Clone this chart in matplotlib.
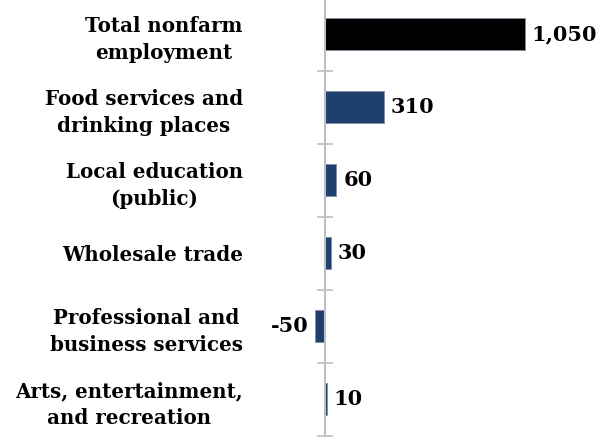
import matplotlib
matplotlib.use('Agg')
import matplotlib.pyplot as plt
import numpy as np

# data
categories = ['Total nonfarm\nemployment',
              'Food services and\ndrinking places',
              'Local education\n(public)',
              'Wholesale trade',
              'Professional and\nbusiness services',
              'Arts, entertainment,\nand recreation']
values = [1050, 310, 60, 30, -50, 10]
value_labels = ['1,050', '310', '60', '30', '-50', '10']
bar_colors = ['#000000', '#1f3f6e', '#1f3f6e', '#1f3f6e', '#1f3f6e', '#1f3f6e']

plt.rcParams['font.family'] = ['DejaVu Serif']
plt.rcParams['font.weight'] = 'bold'

fig = plt.figure(figsize=(6.14, 4.38), dpi=100)
ax = fig.add_axes([0.498, 0.005, 0.434, 1.0])

pos = np.arange(len(categories))
ax.barh(pos, values, height=0.44, color=bar_colors, edgecolor='#7f8ea3', linewidth=0.6)
ax.set_ylim(len(categories) - 0.5, -0.5)
ax.set_xlim(-100, 1300)

for spine in ['top', 'right', 'bottom']:
    ax.spines[spine].set_visible(False)
ax.spines['left'].set_position(('data', 0))
ax.spines['left'].set_color('#bfbfbf')
ax.spines['left'].set_linewidth(1.5)
ax.set_xticks([])

# category labels on the major ticks, tick marks at the category borders
ax.set_yticks(pos)
ax.set_yticklabels(categories, fontsize=14.3, fontweight='bold',
                   multialignment='center', linespacing=1.42)
ax.tick_params(axis='y', which='major', length=0, pad=59)
ax.set_yticks(np.arange(len(categories) + 1) - 0.5, minor=True)
ax.tick_params(axis='y', which='minor', direction='inout', length=11, width=1.2, color='#bfbfbf')

for p, v, lab in zip(pos, values, value_labels):
    if v >= 0:
        ax.annotate(lab, (v, p), xytext=(5, 0), textcoords='offset points',
                    ha='left', va='center', fontsize=15, fontweight='bold')
    else:
        ax.annotate(lab, (v, p), xytext=(-5, 0), textcoords='offset points',
                    ha='right', va='center', fontsize=15, fontweight='bold')

fig.savefig('out.png', dpi=100)
